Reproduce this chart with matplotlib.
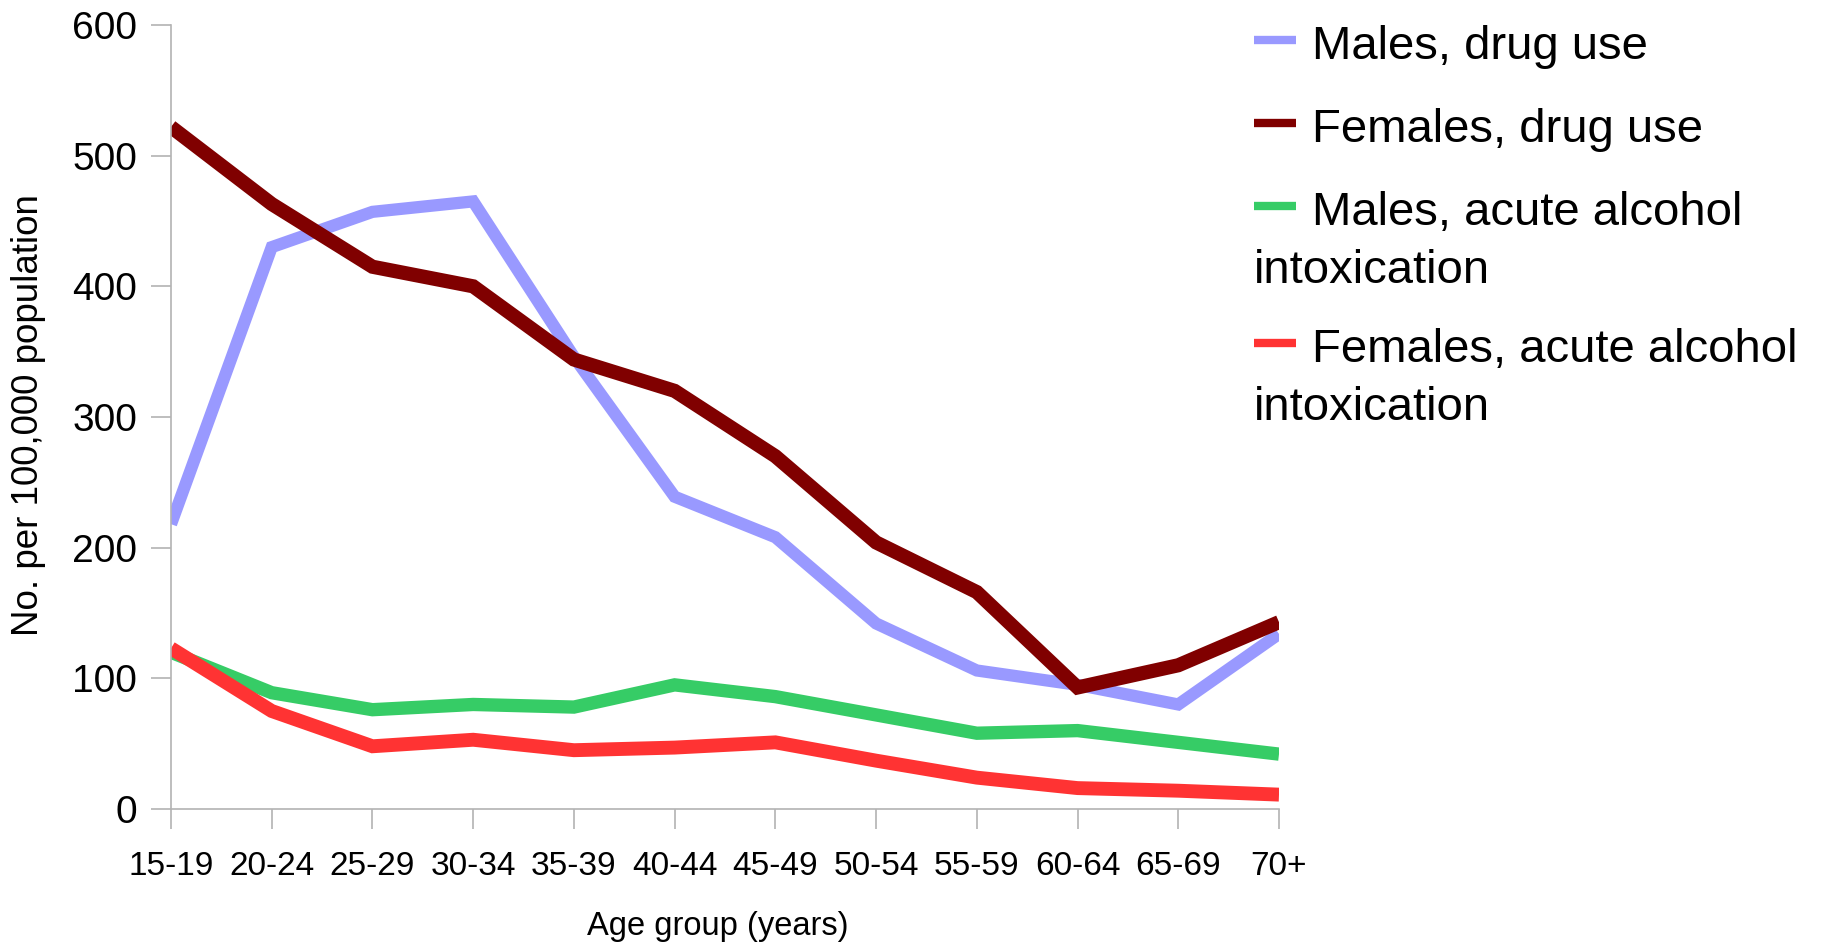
import matplotlib
matplotlib.use("Agg")
import matplotlib.pyplot as plt
from matplotlib.lines import Line2D

plt.rcParams['font.family'] = ['Liberation Sans', 'DejaVu Sans']

age_groups = ["15-19", "20-24", "25-29", "30-34", "35-39", "40-44",
              "45-49", "50-54", "55-59", "60-64", "65-69", "70+"]
males_drug = [218, 430, 457, 465, 346, 239, 208, 142, 106, 95, 80, 134]
females_drug = [522, 463, 415, 400, 344, 320, 270, 204, 166, 93, 110, 143]
males_alcohol = [120, 89, 76, 80, 78, 95, 86, 72, 58, 60, 51, 42]
females_alcohol = [123, 75, 48, 53, 45, 47, 51, 37, 24, 16, 14, 11]
y_ticks = [0, 100, 200, 300, 400, 500, 600]

series = [
    ("Males, drug use", males_drug, "#9999ff", 8.8),
    ("Females, drug use", females_drug, "#800000", 10.2),
    ("Males, acute alcohol intoxication", males_alcohol, "#36cc66", 9.6),
    ("Females, acute alcohol intoxication", females_alcohol, "#ff3333", 10.0),
]

W, H = 1826, 943
fig = plt.figure(figsize=(W / 100, H / 100), dpi=100)
ax = fig.add_axes([171 / W, 1 - 809 / H, (1279 - 171) / W, (809 - 25) / H])

x = list(range(len(age_groups)))
for label, vals, color, lw in series:
    ax.plot(x, vals, color=color, lw=lw, solid_capstyle='butt',
            solid_joinstyle='miter', label=label)

ax.set_xlim(0, len(age_groups) - 1)
ax.set_ylim(0, 600)
ax.set_xticks(x)
ax.set_xticklabels(age_groups, fontsize=24)
ax.set_yticks(y_ticks)
ax.set_yticklabels([str(v) for v in y_ticks], fontsize=28)

grey = "#b3b3b3"
for s in ['top', 'right']:
    ax.spines[s].set_visible(False)
for s in ['left', 'bottom']:
    ax.spines[s].set_color(grey)
    ax.spines[s].set_linewidth(1.2)
ax.tick_params(axis='both', color=grey, length=14.4, width=1.2)
ax.tick_params(axis='x', pad=16)
ax.tick_params(axis='y', pad=10)

def fx(px):
    return px / W

def fy(py):
    return 1 - py / H

fig.text(fx(29), fy(415), "No. per 100,000 population", rotation=90,
         ha='center', va='center', fontsize=26.5)
fig.text(fx(718), fy(935), "Age group (years)", ha='center', va='baseline',
         fontsize=23.5)

# legend (manual, wrapped like the original)
legend_rows = [
    (["Males, drug use"], 40, [59]),
    (["Females, drug use"], 123, [142]),
    (["Males, acute alcohol", "intoxication"], 206, [225, 283]),
    (["Females, acute alcohol", "intoxication"], 343, [362, 420]),
]
for (lines, hy, baselines), (_, _, color, _) in zip(legend_rows, series):
    fig.add_artist(Line2D([fx(1254), fx(1296)], [fy(hy), fy(hy)],
                          color=color, lw=6, solid_capstyle='butt',
                          transform=fig.transFigure))
    for i, (t, by) in enumerate(zip(lines, baselines)):
        tx = 1312 if i == 0 else 1254
        fig.text(fx(tx), fy(by), t, ha='left', va='baseline', fontsize=34)

fig.savefig("out.png", dpi=100, facecolor='white')
